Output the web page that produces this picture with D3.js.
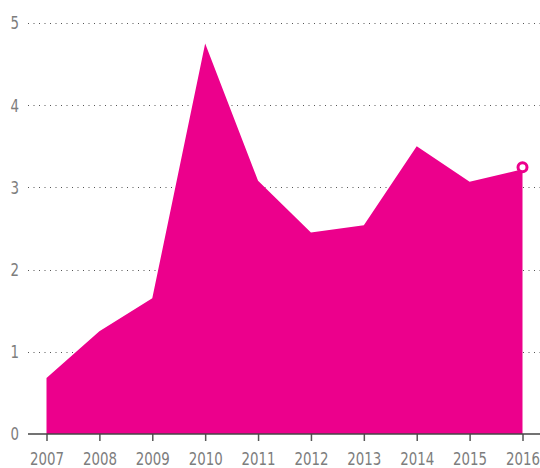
<!DOCTYPE html>
<html>
<head>
<meta charset="utf-8">
<script src="https://cdn.jsdelivr.net/npm/d3@7"></script>
<style>
  body { margin: 0; background: #fff; }
  svg text { font-family: "DejaVu Sans", sans-serif; font-stretch: condensed; fill: #7d7d7d; }
</style>
</head>
<body>
<div id="chart"></div>
<script>
// values
var years = [2007, 2008, 2009, 2010, 2011, 2012, 2013, 2014, 2015, 2016];
var values = [0.68, 1.25, 1.65, 4.75, 3.08, 2.45, 2.54, 3.50, 3.07, 3.22];
var yTicks = [0, 1, 2, 3, 4, 5];

var width = 540, height = 468;
var pink = '#ec008c';

var svg = d3.select('#chart').append('svg')
  .attr('width', width)
  .attr('height', height);

var x = d3.scaleLinear()
  .domain([2007, 2016])
  .range([46.5, 522.5]);

var y = d3.scaleLinear()
  .domain([0, 5])
  .range([434, 23]);

// dotted gridlines (drawn under the area)
svg.append('g')
  .selectAll('line')
  .data(yTicks.filter(d => d > 0))
  .enter().append('line')
    .attr('x1', 28)
    .attr('x2', width)
    .attr('y1', d => Math.round(y(d)) + 0.5)
    .attr('y2', d => Math.round(y(d)) + 0.5)
    .attr('stroke', '#555')
    .attr('stroke-width', 1)
    .attr('stroke-dasharray', '1,4.5');

// y labels
svg.append('g')
  .selectAll('text')
  .data(yTicks)
  .enter().append('text')
    .attr('x', 19)
    .attr('y', d => y(d))
    .attr('dy', '0.36em')
    .attr('text-anchor', 'end')
    .attr('textLength', 8.5)
    .attr('lengthAdjust', 'spacingAndGlyphs')
    .style('font-size', '17.5px')
    .text(d => d);

var data = years.map((yr, i) => ({year: yr, value: values[i]}));

var area = d3.area()
  .x(d => x(d.year))
  .y0(y(0))
  .y1(d => y(d.value));

svg.append('path')
  .datum(data)
  .attr('d', area)
  .attr('fill', pink);

// x axis
var xAxis = d3.axisBottom(x)
  .tickValues(years)
  .tickFormat(d3.format('d'))
  .tickSize(7)
  .tickPadding(12)
  .tickSizeOuter(0);

var gx = svg.append('g')
  .attr('transform', 'translate(0,' + y(0) + ')')
  .call(xAxis);

gx.select('.domain').remove();
gx.append('line')
  .attr('x1', 28)
  .attr('x2', width)
  .attr('stroke', '#444')
  .attr('stroke-width', 1.5);
gx.selectAll('.tick line')
  .attr('stroke', '#555')
  .attr('stroke-width', 1.5);
// the original face is narrower than anything installed
gx.selectAll('.tick text')
  .attr('textLength', 34)
  .attr('lengthAdjust', 'spacingAndGlyphs')
  .style('font-size', '17.5px')
  .style('font-family', '"DejaVu Sans", sans-serif')
  .attr('fill', '#7d7d7d');

// last point marker
var last = data[data.length - 1];
svg.append('circle')
  .attr('cx', x(last.year))
  .attr('cy', y(last.value) - 2)
  .attr('r', 4.5)
  .attr('fill', '#fff')
  .attr('stroke', pink)
  .attr('stroke-width', 3);
</script>
</body>
</html>
